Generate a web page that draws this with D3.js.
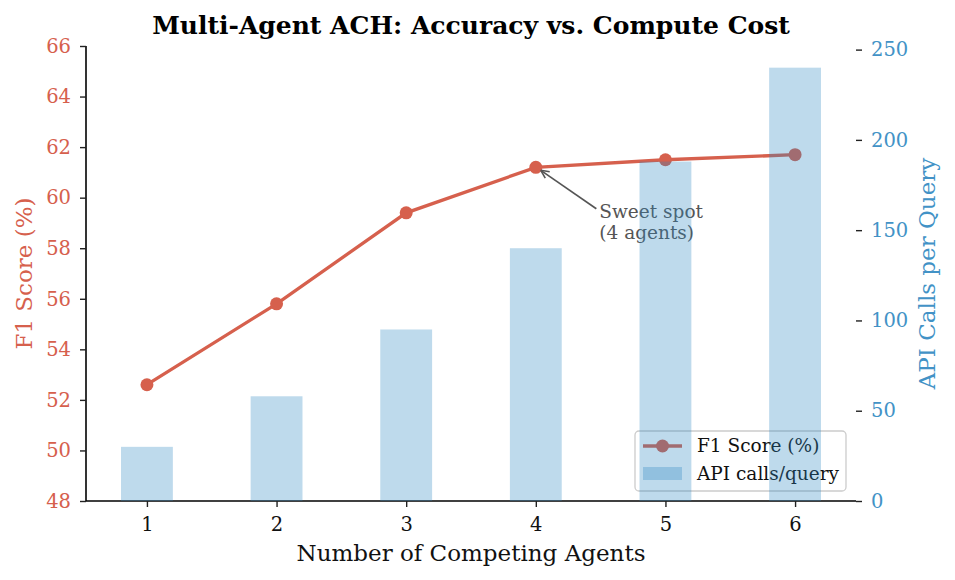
<!DOCTYPE html>
<html lang="en">
  <head>
    <meta charset="UTF-8" />
    <title>Multi-Agent ACH</title>
    <script src="https://cdn.jsdelivr.net/npm/d3@7"></script>
    <style>
      body { margin: 0; background: #fff; }
      svg { font-family: "DejaVu Serif", serif; }
    </style>
  </head>
  <body>
    <svg width="955" height="580"></svg>
    <script>
      const agents = [1, 2, 3, 4, 5, 6];
      const f1Scores = [52.6, 55.8, 59.4, 61.2, 61.5, 61.7];
      const apiCalls = [30, 58, 95, 140, 188, 240];
      const f1Ticks = [48, 50, 52, 54, 56, 58, 60, 62, 64, 66];
      const apiTicks = [0, 50, 100, 150, 200, 250];

      const red = "#d6604d";
      const blue = "#4292c6";

      const margin = { top: 46, right: 99, bottom: 79, left: 86 };
      const width = 955 - margin.left - margin.right;
      const height = 580 - margin.top - margin.bottom;

      const svg = d3.select("svg");
      const g = svg.append("g").attr("transform", `translate(${margin.left},${margin.top})`);

      const x = d3.scaleLinear().domain([0.53, 6.47]).range([0, width]);
      const yLeft = d3.scaleLinear().domain([48, 66]).range([height, 0]);
      const yRight = d3.scaleLinear().domain([0, 252]).range([height, 0]);

      // axes
      const xAxis = g.append("g").attr("transform", `translate(0,${height})`)
        .call(d3.axisBottom(x).tickValues(agents).tickFormat(d3.format("d")).tickSize(6).tickPadding(10));
      const leftAxis = g.append("g")
        .call(d3.axisLeft(yLeft).tickValues(f1Ticks).tickSize(6).tickPadding(9));
      const rightAxis = g.append("g").attr("transform", `translate(${width},0)`)
        .call(d3.axisRight(yRight).tickValues(apiTicks).tickSize(6).tickPadding(9));

      [xAxis, leftAxis, rightAxis].forEach(a => {
        a.selectAll("text").style("font-family", "DejaVu Serif").style("font-size", "19.5px");
        a.selectAll("line").attr("stroke", "#222").attr("stroke-width", 1.4);
        a.select(".domain").attr("stroke", "#000").attr("stroke-width", 1.6);
      });
      xAxis.selectAll("text").attr("fill", "#111");
      leftAxis.selectAll("text").attr("fill", red);
      rightAxis.selectAll("text").attr("fill", blue);
      rightAxis.select(".domain").remove();
      xAxis.select(".domain").attr("d", `M0,0H${width}`);
      leftAxis.select(".domain").attr("d", `M0,${height}V0`);

      // labels
      svg.append("text")
        .attr("x", 471).attr("y", 561)
        .attr("text-anchor", "middle").attr("font-size", 23).attr("fill", "#111")
        .text("Number of Competing Agents");
      svg.append("text")
        .attr("transform", `translate(32,${margin.top + height / 2}) rotate(-90)`)
        .attr("text-anchor", "middle").attr("font-size", 23).attr("fill", red)
        .text("F1 Score (%)");
      svg.append("text")
        .attr("transform", `translate(935,${margin.top + height / 2}) rotate(-90)`)
        .attr("text-anchor", "middle").attr("font-size", 23).attr("fill", blue)
        .text("API Calls per Query");
      svg.append("text")
        .attr("x", 471).attr("y", 34)
        .attr("text-anchor", "middle").attr("font-size", 25).attr("font-weight", "bold").attr("fill", "#000")
        .text("Multi-Agent ACH: Accuracy vs. Compute Cost");

      // F1 line
      const line = d3.line().x((d, i) => x(agents[i])).y(d => yLeft(d));
      g.append("path").attr("d", line(f1Scores))
        .attr("fill", "none").attr("stroke", red).attr("stroke-width", 3.3);
      g.selectAll(".pt").data(f1Scores).join("circle")
        .attr("cx", (d, i) => x(agents[i])).attr("cy", d => yLeft(d))
        .attr("r", 6.5).attr("fill", red);

      // annotation
      const best = 3;
      const tx = x(4.49), ty = yLeft(59.6);
      const px = x(agents[best]) + 5, py = yLeft(f1Scores[best]) + 3;
      g.append("line").attr("x1", tx - 3).attr("y1", ty + 1).attr("x2", px).attr("y2", py)
        .attr("stroke", "#555").attr("stroke-width", 1.6);
      const ang = Math.atan2(ty + 1 - py, tx - 3 - px);
      [0.45, -0.45].forEach(da => {
        g.append("line").attr("x1", px).attr("y1", py)
          .attr("x2", px + 9 * Math.cos(ang + da)).attr("y2", py + 9 * Math.sin(ang + da))
          .attr("stroke", "#555").attr("stroke-width", 1.6);
      });
      const ann = g.append("text").attr("x", tx).attr("y", ty + 10)
        .attr("font-size", 18.5).attr("fill", "#555");
      ann.append("tspan").attr("x", tx).text("Sweet spot");
      ann.append("tspan").attr("x", tx).attr("dy", 21.5).text("(4 agents)");

      // legend
      const lg = g.append("g").attr("transform", `translate(${635 - margin.left},${431 - margin.top})`);
      lg.append("rect").attr("width", 211).attr("height", 60).attr("rx", 4)
        .attr("fill", "#fff").attr("fill-opacity", 0.8).attr("stroke", "#ccc").attr("stroke-width", 1.3);
      lg.append("line").attr("x1", 8).attr("x2", 47).attr("y1", 15).attr("y2", 15)
        .attr("stroke", red).attr("stroke-width", 3.3);
      lg.append("circle").attr("cx", 27.5).attr("cy", 15).attr("r", 6.5).attr("fill", red);
      lg.append("rect").attr("x", 8).attr("y", 36).attr("width", 39).attr("height", 13)
        .attr("fill", "#2e86c1").attr("fill-opacity", 0.31);
      lg.append("text").attr("x", 62).attr("y", 21).attr("font-size", 18.5).attr("fill", "#111").text("F1 Score (%)");
      lg.append("text").attr("x", 62).attr("y", 49).attr("font-size", 18.5).attr("fill", "#111").text("API calls/query");

      // API bars (secondary axis, drawn on top)
      const bw = x(1.2) - x(0.8);
      g.selectAll(".bar").data(apiCalls).join("rect")
        .attr("x", (d, i) => x(agents[i]) - bw / 2)
        .attr("y", d => yRight(d))
        .attr("width", bw)
        .attr("height", d => height - yRight(d))
        .attr("fill", "#2e86c1").attr("fill-opacity", 0.31);
    </script>
  </body>
</html>
